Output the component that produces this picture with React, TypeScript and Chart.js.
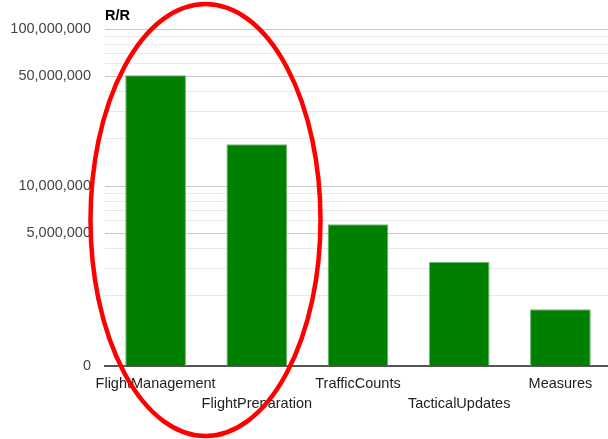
import { useEffect, useRef } from 'react';
import { Chart, registerables } from 'chart.js';

Chart.register(...registerables);

const CATEGORIES = ['FlightManagement', 'FlightPreparation', 'TrafficCounts', 'TacticalUpdates', 'Measures'];
const VALUES = [50700000, 18450000, 5700000, 3280000, 1640000];
const TITLE = 'R/R';
const Y_MIN = 714000;
const Y_MAX = 100000000;
const Y_GRID = [2e6, 3e6, 4e6, 5e6, 6e6, 7e6, 8e6, 9e6, 1e7, 2e7, 3e7, 4e7, 5e7, 6e7, 7e7, 8e7, 9e7, 1e8];
const Y_LABELED = [5e6, 1e7, 5e7, 1e8];

const FONT = "'Liberation Sans', Arial, sans-serif";

const overlayPlugin = {
  id: 'overlay',
  afterDraw(chart: any) {
    const ctx = chart.ctx;
    const area = chart.chartArea;
    ctx.save();
    ctx.fillStyle = '#000000';
    ctx.font = `bold 14.5px ${FONT}`;
    ctx.textAlign = 'left';
    ctx.textBaseline = 'middle';
    ctx.fillText(TITLE, area.left, 16);
    ctx.strokeStyle = '#ff0000';
    ctx.lineWidth = 4.5;
    ctx.beginPath();
    ctx.ellipse(205.5, 220, 115, 216, 0, 0, Math.PI * 2);
    ctx.stroke();
    ctx.restore();
  },
};

export default function App() {
  const ref = useRef<HTMLCanvasElement>(null);
  useEffect(() => {
    if (!ref.current) return;
    const chart = new Chart(ref.current, {
      type: 'bar',
      data: {
        labels: CATEGORIES,
        datasets: [
          {
            data: VALUES,
            backgroundColor: '#008000',
            borderColor: '#6fb86f',
            borderWidth: 1,
            barPercentage: 0.6,
            categoryPercentage: 1,
          },
        ],
      },
      options: {
        animation: false,
        responsive: false,
        devicePixelRatio: 1,
        layout: { padding: { top: 29, left: 0, right: 0, bottom: 0 } },
        plugins: { legend: { display: false }, tooltip: { enabled: false }, title: { display: false } },
        scales: {
          x: {
            type: 'category',
            grid: { display: false },
            border: { display: true, color: '#555555', width: 2 },
            ticks: {
              autoSkip: false,
              maxRotation: 0,
              minRotation: 0,
              padding: 0,
              color: '#222222',
              font: { family: FONT, size: 14.5, lineHeight: '20px' },
              callback: (_v: any, i: number) => (i % 2 === 1 ? ['', CATEGORIES[i]] : CATEGORIES[i]),
            },
            afterFit: (s: any) => {
              s.height = 73;
            },
          },
          y: {
            type: 'logarithmic',
            min: Y_MIN,
            max: Y_MAX,
            border: { display: false },
            grid: {
              drawTicks: false,
              color: (c: any) => {
                const v = c.tick ? c.tick.value : 0;
                if (v === Y_MIN) return 'rgba(0,0,0,0)';
                return Y_LABELED.includes(v) ? '#c8c8c8' : '#e8e8e8';
              },
              lineWidth: 1,
            },
            afterBuildTicks: (s: any) => {
              s.ticks = [Y_MIN, ...Y_GRID].map((v) => ({ value: v }));
            },
            ticks: {
              autoSkip: false,
              padding: 14,
              color: '#444444',
              font: { family: FONT, size: 14.5 },
              callback: (v: any) => {
                const n = Number(v);
                if (n === Y_MIN) return '0';
                return Y_LABELED.includes(n) ? n.toLocaleString('en-US') : '';
              },
            },
            afterFit: (s: any) => {
              s.width = 105;
            },
          },
        },
      },
      plugins: [overlayPlugin],
    });
    return () => chart.destroy();
  }, []);
  return (
    <div style={{ position: 'absolute', left: 0, top: 0, width: 608, height: 439, overflow: 'hidden', background: '#fff' }}>
      <canvas ref={ref} width={611} height={439} style={{ display: 'block' }} />
    </div>
  );
}
